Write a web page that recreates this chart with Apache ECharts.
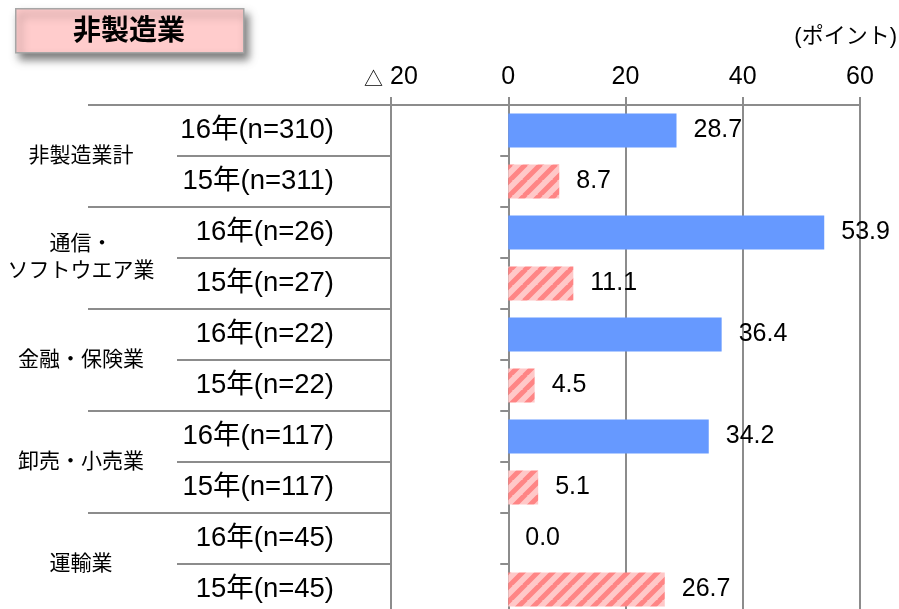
<!DOCTYPE html>
<html>
<head>
<meta charset="utf-8">
<script src="https://cdn.jsdelivr.net/npm/echarts@6/dist/echarts.min.js"></script>
<style>
html,body{margin:0;padding:0;background:#fff;}
#chart{width:899px;height:609px;}
</style>
</head>
<body>
<div id="chart"></div>
<script>
// ---- data ----
const groupLabels = ['非製造業計', '通信・\nソフトウエア業', '金融・保険業', '卸売・小売業', '運輸業'];
const rowLabels = ['16年(n=310)', '15年(n=311)', '16年(n=26)', '15年(n=27)', '16年(n=22)', '15年(n=22)', '16年(n=117)', '15年(n=117)', '16年(n=45)', '15年(n=45)'];
const values16 = [28.7, 53.9, 36.4, 34.2, 0.0];
const values15 = [8.7, 11.1, 4.5, 5.1, 26.7];
const tickValues = [-20, 0, 20, 40, 60];
const tickLabels = ['{t|△} 20', '0', '20', '40', '60'];
const titleText = '非製造業';
const unitText = '(ポイント)';

// ---- build ----
const FONT = "'Liberation Sans', 'Noto Sans CJK JP', sans-serif";
const GRAY = '#8c8c8c';

function makeHatch() {
  const s = 15;
  const c = document.createElement('canvas');
  c.width = s; c.height = s;
  const g = c.getContext('2d');
  g.fillStyle = '#FFC8C8';
  g.fillRect(0, 0, s, s);
  g.strokeStyle = '#FF8585';
  g.lineWidth = 5;
  g.beginPath();
  for (let k = -1; k <= 1; k++) {
    g.moveTo(k * s - 1, s + 1);
    g.lineTo(k * s + s + 1, -1);
  }
  g.stroke();
  return c;
}

const data16 = [], data15 = [];
for (let i = 0; i < groupLabels.length; i++) {
  data16.push(values16[i], '-');
  data15.push('-', values15[i]);
}

const labelCfg = {
  show: true,
  position: 'right',
  distance: 17,
  fontSize: 25,
  fontFamily: FONT,
  color: '#000',
  formatter: p => Number(p.value).toFixed(1)
};

const chart = echarts.init(document.getElementById('chart'), null, {renderer: 'canvas'});
chart.setOption({
  animation: false,
  backgroundColor: '#fff',
  textStyle: {fontFamily: FONT},
  grid: {left: 391, width: 469, top: 105, height: 510, containLabel: false, outerBoundsMode: 'none'},
  xAxis: {
    type: 'value',
    position: 'top',
    min: -20, max: 60, interval: 20,
    axisLine: {show: true, lineStyle: {color: GRAY, width: 2}},
    axisTick: {show: true, length: 8, lineStyle: {color: GRAY, width: 2}},
    splitLine: {show: true, lineStyle: {color: GRAY, width: 2}},
    axisLabel: {
      fontSize: 25, color: '#000', margin: 15, fontFamily: FONT,
      rich: {t: {fontSize: 19, fontFamily: "'Noto Sans CJK JP', sans-serif", color: '#000', padding: [3, 0, 0, 0]}},
      formatter: v => { const i = tickValues.indexOf(v); return i >= 0 ? tickLabels[i] : ''; }
    }
  },
  yAxis: [
    {
      type: 'category', data: rowLabels, inverse: true,
      axisLine: {show: true, onZero: true, lineStyle: {color: GRAY, width: 2}},
      axisTick: {show: true, length: 8, lineStyle: {color: GRAY, width: 2}},
      axisLabel: {show: false},
      splitLine: {show: false}
    },
    {
      type: 'category', data: rowLabels, inverse: true, position: 'left',
      axisLine: {show: false, onZero: false},
      axisTick: {show: true, length: 214, lineStyle: {color: GRAY, width: 2}},
      axisLabel: {show: true, margin: 57, fontSize: 27.5, color: '#000', fontFamily: FONT, align: 'right'},
      splitLine: {show: false}
    },
    {
      type: 'category', data: groupLabels, inverse: true, position: 'left',
      axisLine: {show: false, onZero: false},
      axisTick: {show: true, length: 303, lineStyle: {color: GRAY, width: 2}},
      axisLabel: {show: true, margin: 310, fontSize: 21, lineHeight: 27, color: '#000', fontFamily: FONT, align: 'center'},
      splitLine: {show: false}
    }
  ],
  series: [
    {
      name: '16年', type: 'bar', yAxisIndex: 0, data: data16,
      barWidth: 34, barGap: '-100%',
      itemStyle: {color: '#6699FF'},
      label: labelCfg
    },
    {
      name: '15年', type: 'bar', yAxisIndex: 0, data: data15,
      barWidth: 34, barGap: '-100%',
      itemStyle: {color: {image: makeHatch(), repeat: 'repeat'}},
      label: labelCfg
    }
  ],
  graphic: [
    {
      type: 'rect', left: 15, top: 8,
      shape: {width: 228, height: 44},
      style: {fill: '#FFCCCC', stroke: '#A6A6A6', lineWidth: 1.5,
        shadowBlur: 8, shadowOffsetX: 4, shadowOffsetY: 6, shadowColor: 'rgba(0,0,0,0.5)'}
    },
    {
      type: 'text', x: 129, y: 32,
      style: {text: titleText, fontSize: 28, fontWeight: 'bold', fontFamily: FONT, fill: '#000',
        align: 'center', verticalAlign: 'middle'}
    },
    {
      type: 'text', x: 897, y: 37,
      style: {text: unitText, fontSize: 22, fontFamily: FONT, fill: '#000',
        align: 'right', verticalAlign: 'middle'}
    }
  ]
});
</script>
</body>
</html>
